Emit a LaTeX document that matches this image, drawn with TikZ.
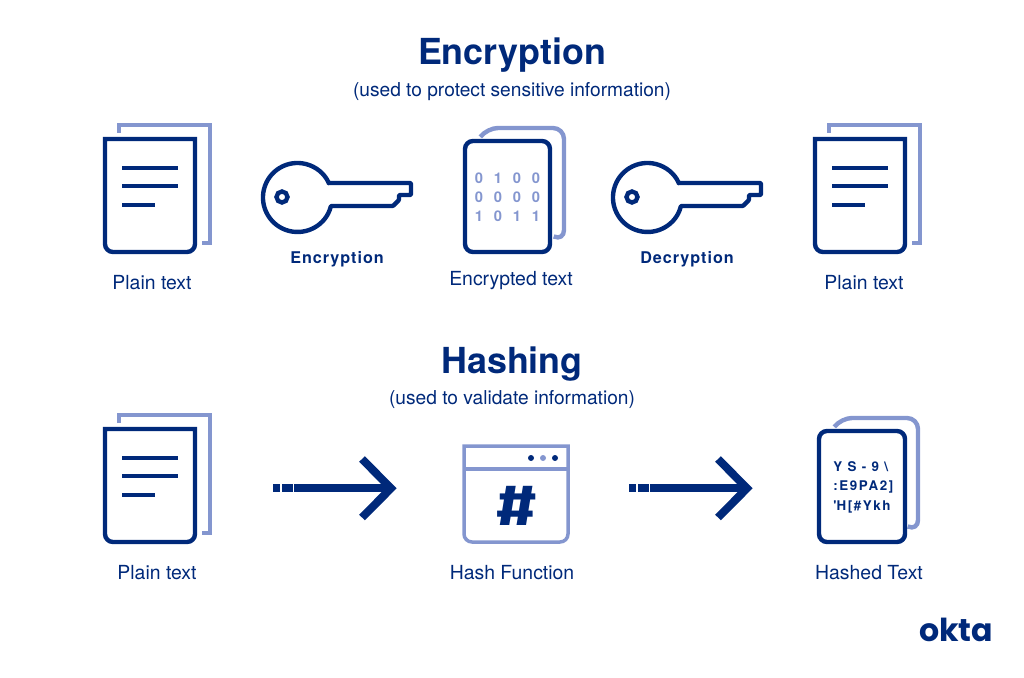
\documentclass[tikz,border=0pt]{standalone}
\usepackage{fontspec}
\setmainfont{TeX Gyre Heros}
\usetikzlibrary{arrows.meta,positioning,calc}
\definecolor{oktadark}{HTML}{00297A}
\definecolor{oktalight}{HTML}{8496CF}
\newfontfamily\logofont{Poppins}
\newfontfamily\signfont{Fira Sans}
\tikzset{
  darkline/.style={draw=oktadark,line width=0.88mm,miter limit=10},
  lightline/.style={draw=oktalight,line width=0.88mm,miter limit=10},
  thinlight/.style={draw=oktalight,line width=0.7mm},
  lbl/.style={text=oktadark,font=\fontsize{11.05}{13}\selectfont,inner sep=0pt},
  boldlbl/.style={text=oktadark,font=\fontsize{9.2}{11}\selectfont\bfseries\addfontfeature{LetterSpace=6},inner sep=0pt},
  bigtitle/.style={text=oktadark,font=\fontsize{20.4}{24}\selectfont\bfseries,inner sep=0pt},
  subtitle/.style={text=oktadark,font=\fontsize{10.9}{13}\selectfont,inner sep=0pt},
  bitlbl/.style={text=oktalight,font=\fontsize{8.4}{10}\selectfont\bfseries,inner sep=0pt},
  hashlbl/.style={text=oktadark,font=\fontsize{7.6}{9}\selectfont\bfseries\addfontfeature{LetterSpace=12},inner sep=0pt},
  plaindoc/.pic={
    \draw[lightline] (14,6) -- (14,14) -- (105,14) -- (105,-104) -- (97,-104);
    \draw[darkline] (0,0) [rounded corners=1.6mm] -- (0,-113) -- (90,-113) [sharp corners] -- (90,0) -- cycle;
    \foreach \y/\e in {29/73,47/73,66/50}
    { \draw[darkline] (17,-\y) -- (\e,-\y); }
  },
  roundback/.pic={
    \draw[lightline,rounded corners=2.2mm] (16,5) -- (22,13) -- (99,13) -- (99,-100) -- (90,-96);
  },
  keyicon/.pic={
    \draw[darkline,line join=round,rounded corners=0.5pt] (31.3,14.5) -- (113.5,14.5) -- (113.5,2.5) -- (101.5,2.5) -- (101.5,-2.5) -- (95.5,-8.5) -- (33.4,-8.5)
      arc[start angle=-14.3,end angle=-335.15,radius=34.5] -- cycle;
    \draw[darkline] (-15.5,0.5) circle[radius=5.5];
  },
  longarrow/.style={draw=oktadark,line width=1.6mm}
}
\begin{document}
\begin{tikzpicture}[x=0.02cm,y=0.02cm]
\useasboundingbox (0,0) rectangle (1024,677);
% titles
\node[bigtitle] (enctitle) at (512,622) {Encryption};
\node[subtitle] (encsub) at (512,585) {(used to protect sensitive information)};
\node[bigtitle] (hashtitle) at (512,313) {Hashing};
\node[subtitle] (hashsub) at (512,277) {(used to validate information)};
% top row
\pic at (105,538) {plaindoc};
\pic at (815,538) {plaindoc};
\pic at (297.5,479.5) {keyicon};
\pic at (647.5,479.5) {keyicon};
\pic at (465,536) {roundback};
\draw[darkline,rounded corners=1.6mm] (465,536) rectangle (550,425);
\foreach \r/\bits in {0/{0,1,0,0},1/{0,0,0,0},2/{1,0,1,1}}
{ \foreach \b [count=\c from 0] in \bits
  { \node[bitlbl] (bit\r\c) at (479+\c*19,499-\r*19) {\b}; } }
\node[lbl] (plainA) at (152,394.5) {Plain text};
\node[boldlbl] (enclbl) at (337,418) {Encryption};
\node[lbl] (enctext) at (511,396) {Encrypted text};
\node[boldlbl] (declbl) at (687,418) {Decryption};
\node[lbl] (plainB) at (864,394.5) {Plain text};
% bottom row
\pic at (105,248) {plaindoc};
\foreach \dx in {0,356}
{ \coordinate (tail\dx) at (294+\dx,188.7);
  \coordinate (head\dx) at (391+\dx,188.7);
  \fill[oktadark] (273+\dx,184.7) rectangle (280+\dx,192.7);
  \fill[oktadark] (282+\dx,184.7) rectangle (292.5+\dx,192.7);
  \draw[longarrow] (tail\dx) -- (head\dx);
  \draw[longarrow,miter limit=10] (362+\dx,218) -- (head\dx) -- (362+\dx,159.5); }
\draw[thinlight] (464,231) [rounded corners=1.6mm] -- (464,135) -- (568,135) [sharp corners] -- (568,231) -- cycle;
\draw[thinlight] (464,208) -- (568,208);
\foreach \x/\c in {531/oktadark,543/oktalight,555/oktadark}
{ \fill[\c] (\x,219) circle[radius=3]; }
\node[text=oktadark,font=\fontsize{33}{33}\signfont\bfseries,inner sep=0pt,xscale=1.25] (hashsign) at (516.5,171) {\#};
\pic at (819,246) {roundback};
\draw[darkline,rounded corners=1.6mm] (819,246) rectangle (905,135);
\node[hashlbl,anchor=west] (hashA) at (833,210) {Y S - 9 \textbackslash};
\node[hashlbl,anchor=west] (hashB) at (833,190) {:E9PA2]};
\node[hashlbl,anchor=west] (hashC) at (833,170) {\textquotesingle H[\#Ykh};
\node[lbl] (plainC) at (157,104.5) {Plain text};
\node[lbl] (hashfn) at (512,104.5) {Hash Function};
\node[lbl] (hashtext) at (869,104.5) {Hashed Text};
% logo
\node[text=oktadark,font=\fontsize{18}{18}\logofont\bfseries,inner sep=0pt] (logo) at (956,47) {okta};
\end{tikzpicture}
\end{document}
